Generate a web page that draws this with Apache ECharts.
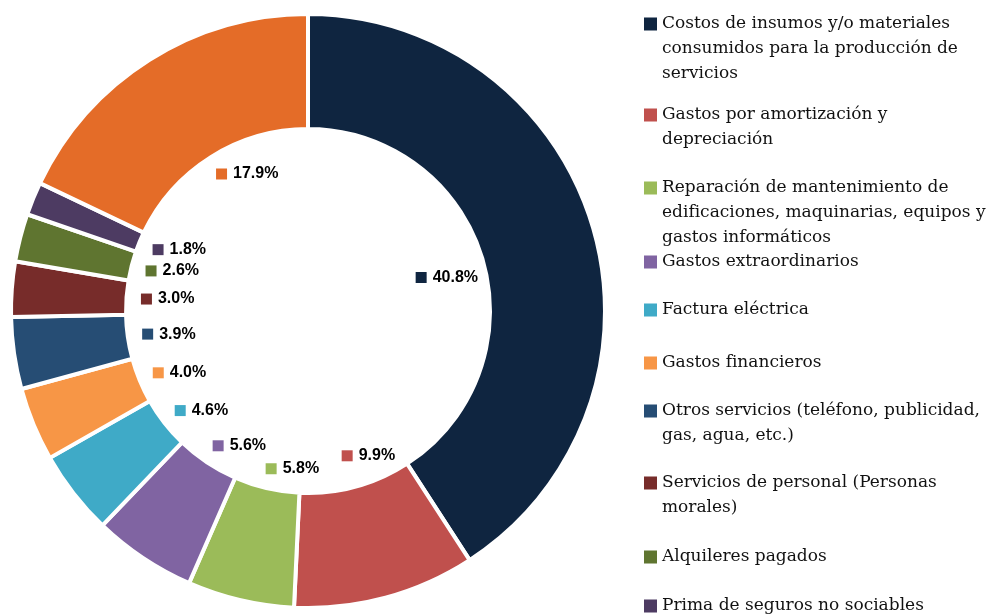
<!DOCTYPE html>
<html lang="es">

<head>
    <meta charset="UTF-8">
    <title>Gastos</title>
    <style>
        html,
        body {
            margin: 0;
            padding: 0;
            width: 100%;
            height: 100%;
            background-color: #fff;
        }

        #chart {
            width: 1003px;
            height: 616px;
        }
    </style>
</head>

<body>
    <div id="chart"></div>
    <script src="https://cdn.jsdelivr.net/npm/echarts@6/dist/echarts.min.js"></script>
    <script>
        // datos (porcentajes)
        const categories = [
            'Costos de insumos y/o materiales\nconsumidos para la producción de\nservicios',
            'Gastos por amortización y\ndepreciación',
            'Reparación de mantenimiento de\nedificaciones, maquinarias, equipos y\ngastos informáticos',
            'Gastos extraordinarios',
            'Factura eléctrica',
            'Gastos financieros',
            'Otros servicios (teléfono, publicidad,\ngas, agua, etc.)',
            'Servicios de personal (Personas\nmorales)',
            'Alquileres pagados',
            'Prima de seguros no sociables',
            'Otros gastos'
        ]
        const values = [40.8, 9.9, 5.8, 5.6, 4.6, 4.0, 3.9, 3.0, 2.6, 1.8, 17.9]
        const colors = ['#0F2540', '#C0504D', '#9BBB59', '#8064A2', '#3FAAC7', '#F79646',
            '#264D74', '#772C2A', '#5F7530', '#4D3B62', '#E46C28']

        // leyenda: centro de la primera línea de cada entrada (px)
        const legendRows = [24, 115, 188, 262, 310, 363, 411, 483, 557, 606]
        const lineH = 25

        const center = [308, 311]
        const markerRing = 162 // el cuadrito de cada etiqueta cae en este radio
        const holeLimit = 176  // la etiqueta no debe salir del hueco

        // ángulo medio de cada sector (grados, sentido horario desde arriba)
        const total = values.reduce((a, b) => a + b, 0)
        const midAngles = []
        let acc = 0
        values.forEach(v => {
            midAngles.push(90 - (acc + v / 2) / total * 360)
            acc += v
        })

        const rich = { v: { fontFamily: 'Liberation Sans', fontWeight: 'bold', fontSize: 16, color: '#000', padding: [0, 0, 0, 6] } }
        colors.forEach((c, i) => {
            rich['m' + i] = { width: 11, height: 11, backgroundColor: c }
        })

        const legends = categories.slice(0, 10).map((name, i) => {
            const lines = name.split('\n').length
            const h = lines * lineH - 12
            return {
                orient: 'vertical',
                left: 644,
                top: legendRows[i] - lineH / 2,
                padding: 0,
                itemWidth: 13,
                itemHeight: h,
                itemGap: 0,
                itemStyle: { borderWidth: 0 },
                icon: `path://M0,0h13v13h-13z M0,${h}h13`,
                selectedMode: false,
                data: [name],
                textStyle: {
                    fontFamily: 'DejaVu Serif',
                    fontSize: 17,
                    lineHeight: lineH,
                    color: '#111'
                }
            }
        })

        function placeLabel(p) {
            const a = midAngles[p.dataIndex] * Math.PI / 180
            const c = Math.cos(a), s = Math.sin(a)
            const w = p.labelRect.width, h = p.labelRect.height
            const fits = r => {
                const x0 = r * c - 5.5, y0 = -r * s - h / 2
                return [[x0, y0], [x0 + w, y0], [x0, y0 + h], [x0 + w, y0 + h]]
                    .every(([x, y]) => Math.hypot(x, y) <= holeLimit)
            }
            let r = markerRing
            while (r > 0 && !fits(r)) r -= 2
            return {
                x: center[0] + r * c - 5.5,
                y: center[1] - r * s,
                align: 'left',
                verticalAlign: 'middle'
            }
        }

        const chart = echarts.init(document.getElementById('chart'))
        chart.setOption({
            animation: false,
            color: colors,
            legend: legends,
            series: [
                {
                    type: 'pie',
                    center: center,
                    radius: [182, 297],
                    startAngle: 90,
                    clockwise: true,
                    itemStyle: { borderColor: '#fff', borderWidth: 4 },
                    emphasis: { disabled: true },
                    label: {
                        show: true,
                        position: 'inside',
                        formatter: p => `{m${p.dataIndex}|}{v|${p.value.toFixed(1)}%}`,
                        rich: rich
                    },
                    labelLine: { show: false },
                    labelLayout: placeLabel,
                    data: categories.map((name, i) => ({ name, value: values[i] }))
                }
            ]
        })
    </script>
</body>

</html>
